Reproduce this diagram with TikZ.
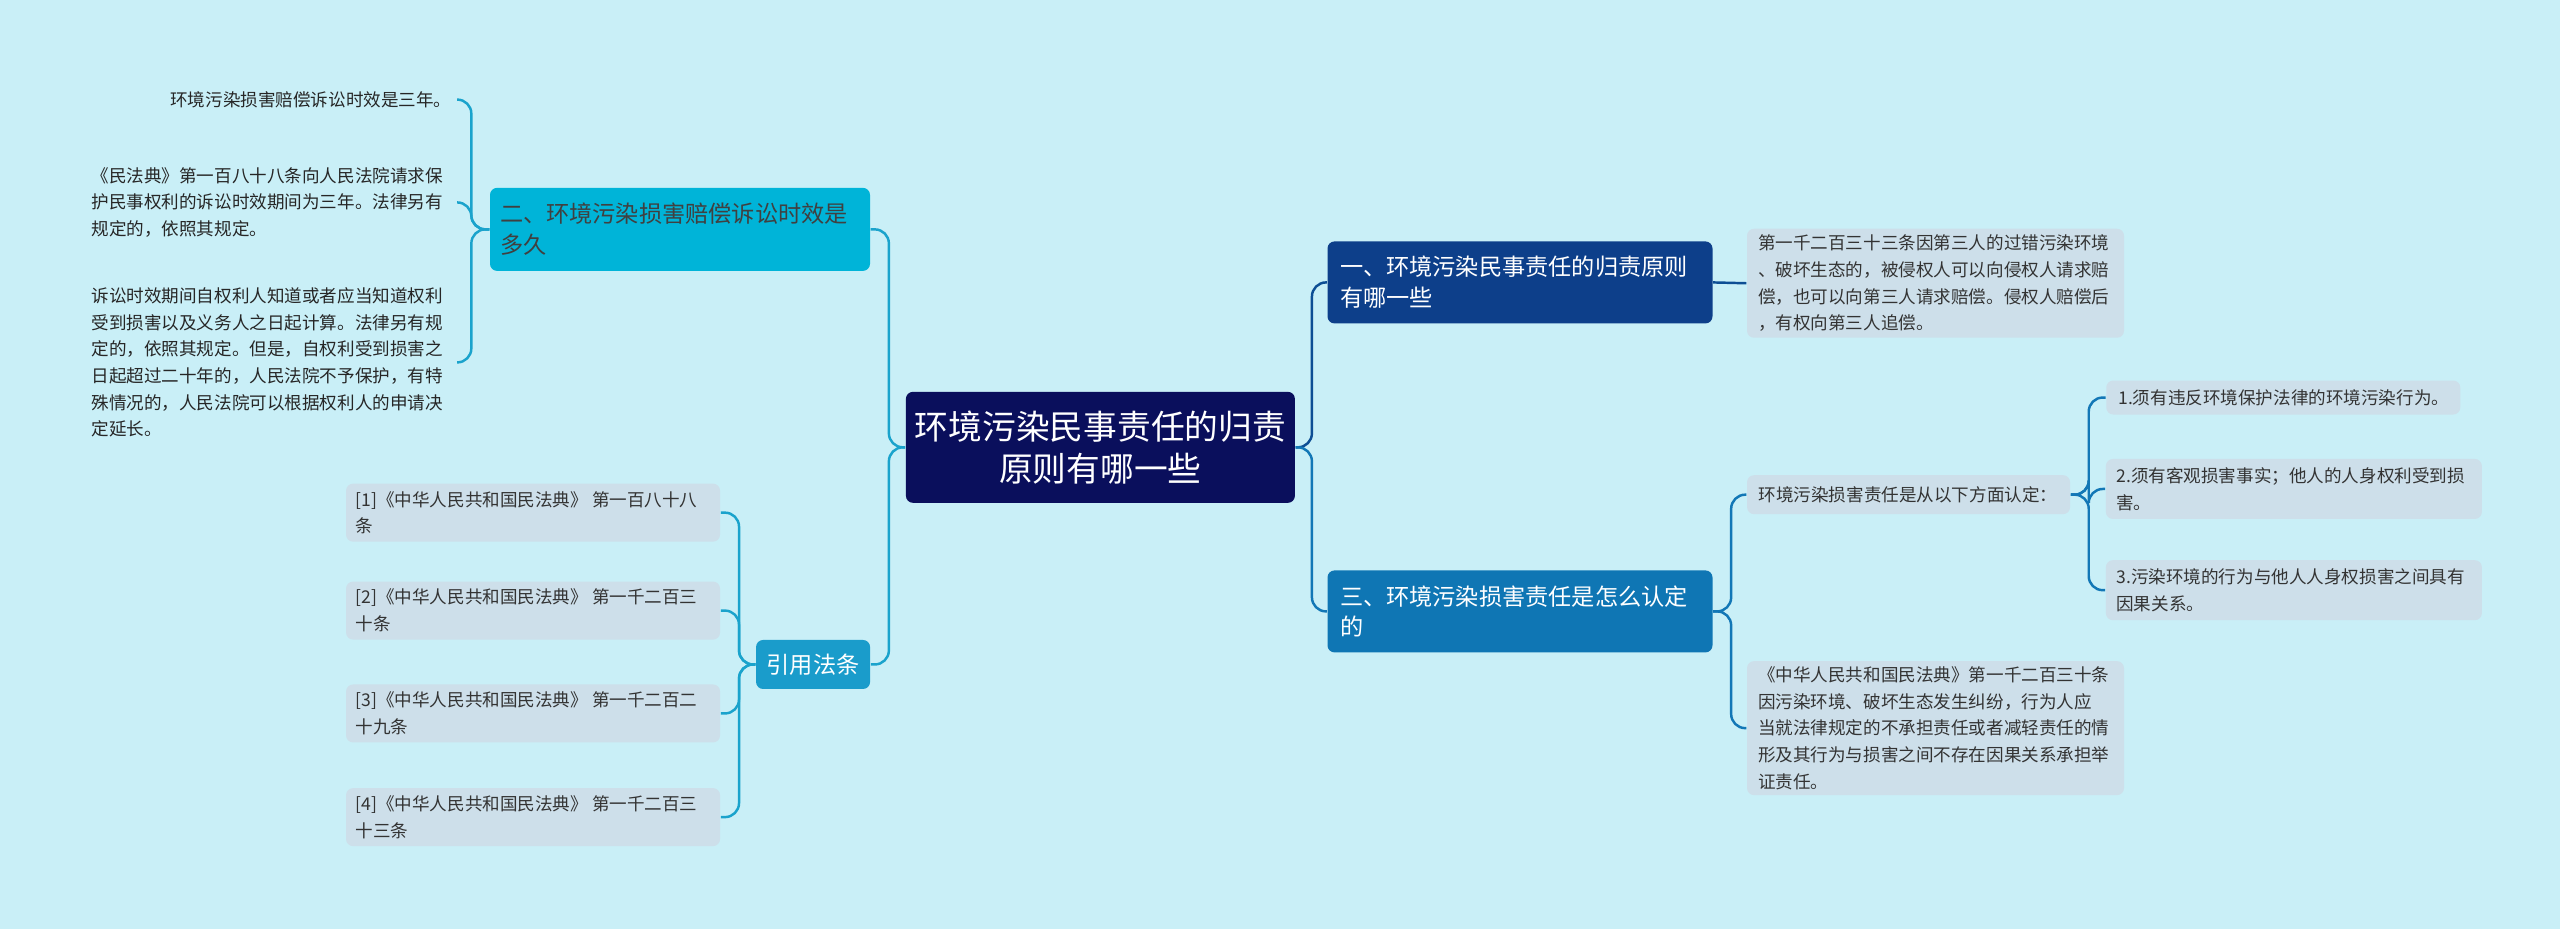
\documentclass[tikz,border=0pt]{standalone}
\usepackage{fontspec}
\setmainfont{Noto Sans CJK SC}
\usetikzlibrary{calc}
\definecolor{bgc}{HTML}{C9EFF7}
\definecolor{rootc}{HTML}{0A0F5C}
\definecolor{onec}{HTML}{0D3F8A}
\definecolor{threec}{HTML}{0F76B4}
\definecolor{twoc}{HTML}{00B4D8}
\definecolor{citec}{HTML}{1A9CCB}
\definecolor{leafc}{HTML}{CDDFEA}
\definecolor{linea}{HTML}{1AA3CC}
\definecolor{lineb}{HTML}{0D4E94}
\definecolor{linec}{HTML}{1277B6}
\tikzset{
  box/.style={rounded corners=2pt, inner sep=0pt, align=left},
  small/.style={font=\fontsize{5}{7.6}\selectfont},
  branch/.style={box, minimum width=3.85cm, minimum height=0.82cm, text=white, font=\fontsize{6.6}{8.8}\selectfont},
  leaf/.style={box, small, fill=leafc, text=black!80},
  link/.style={line width=0.7pt, rounded corners=4pt}
}
\begin{document}
\begin{tikzpicture}[x=0.01633cm, y=-0.01633cm]
\useasboundingbox[fill=bgc] (0,0) rectangle (1568,569);

\node[box, fill=rootc, text=white, minimum width=3.89cm, minimum height=1.11cm, align=center,
  font=\fontsize{9.6}{12}\selectfont] (root) at (674,274) {环境污染民事责任的归责\\原则有哪一些};

% right side
\node[branch, fill=onec] (one) at (931,173) {\parbox{3.6cm}{一、环境污染民事责任的归责原则\\有哪一些}};
\node[leaf, minimum width=3.77cm, minimum height=1.09cm] (oneleaf) at (1185.5,173.5)
  {\parbox{3.55cm}{第一千二百三十三条因第三人的过错污染环境\\、破坏生态的，被侵权人可以向侵权人请求赔\\偿，也可以向第三人请求赔偿。侵权人赔偿后\\，有权向第三人追偿。}};
\node[branch, fill=threec] (three) at (931,374.5) {\parbox{3.6cm}{三、环境污染损害责任是怎么认定\\的}};
\node[leaf, minimum width=3.23cm, minimum height=0.39cm] (crit) at (1169,303)
  {\parbox{3.0cm}{环境污染损害责任是从以下方面认定：}};
\node[leaf, minimum width=3.54cm, minimum height=0.34cm] (ca) at (1398.5,243.5)
  {\parbox{3.3cm}{1.须有违反环境保护法律的环境污染行为。}};
\node[leaf, minimum width=3.76cm, minimum height=0.6cm] (cb) at (1405,299.5)
  {\parbox{3.55cm}{2.须有客观损害事实；他人的人身权利受到损\\害。}};
\node[leaf, minimum width=3.76cm, minimum height=0.6cm] (cc) at (1405,361.5)
  {\parbox{3.55cm}{3.污染环境的行为与他人人身权损害之间具有\\因果关系。}};
\node[leaf, minimum width=3.77cm, minimum height=1.34cm] (threeleaf) at (1185.5,446)
  {\parbox{3.55cm}{《中华人民共和国民法典》第一千二百三十条\\ 因污染环境、破坏生态发生纠纷，行为人应\\当就法律规定的不承担责任或者减轻责任的情\\形及其行为与损害之间不存在因果关系承担举\\证责任。}};

% left side
\node[branch, fill=twoc, text=black!75, minimum width=3.8cm, minimum height=0.83cm] (two) at (416.5,140.5)
  {\parbox{3.6cm}{二、环境污染损害赔偿诉讼时效是\\多久}};
\node[box, small, anchor=east, text=black!85] (ta) at (277,61) {环境污染损害赔偿诉讼时效是三年。};
\node[box, small, anchor=east, text=black!85] (tb) at (277,124)
  {\parbox{3.6cm}{《民法典》第一百八十八条向人民法院请求保\\护民事权利的诉讼时效期间为三年。法律另有\\规定的，依照其规定。}};
\node[box, small, anchor=east, text=black!85] (tc) at (277,222)
  {\parbox{3.6cm}{诉讼时效期间自权利人知道或者应当知道权利\\受到损害以及义务人之日起计算。法律另有规\\定的，依照其规定。但是，自权利受到损害之\\日起超过二十年的，人民法院不予保护，有特\\殊情况的，人民法院可以根据权利人的申请决\\定延长。}};
\node[box, fill=citec, text=white, minimum width=1.14cm, minimum height=0.49cm, align=center,
  font=\fontsize{6.6}{8.8}\selectfont] (cite) at (498,407) {引用法条};
\foreach \n/\y/\t in {ra/314/{[1]《中华人民共和国民法典》 第一百八十八\\条},
                      rb/374/{[2]《中华人民共和国民法典》 第一千二百三\\十条},
                      rc/437/{[3]《中华人民共和国民法典》 第一千二百二\\十九条},
                      rd/500.5/{[4]《中华人民共和国民法典》 第一千二百三\\十三条}}{
  \node[leaf, minimum width=3.74cm, minimum height=0.58cm] (\n) at (326.5,\y) {\parbox{3.55cm}{\t}};
}

% connectors
\draw[link, lineb] (root.east) -- ++(10,0) |- (one.west);
\draw[link, linec] (root.east) -- ++(10,0) |- (three.west);
\draw[link, lineb] (one.east) -- (oneleaf.west);
\foreach \n in {crit, threeleaf}
  \draw[link, linec] (three.east) -- ++(11,0) |- (\n.west);
\foreach \n in {ca, cb, cc}
  \draw[link, linec] (crit.east) -- ++(11,0) |- (\n.west);
\foreach \n in {two, cite}
  \draw[link, linea] (root.west) -- ++(-10,0) |- (\n.east);
\foreach \y in {61, 124, 222}
  \draw[link, linea] (two.west) -- ++(-11,0) |- (280,\y);
\foreach \n in {ra, rb, rc, rd}
  \draw[link, linea] (cite.west) -- ++(-10,0) |- (\n.east);
\end{tikzpicture}
\end{document}
